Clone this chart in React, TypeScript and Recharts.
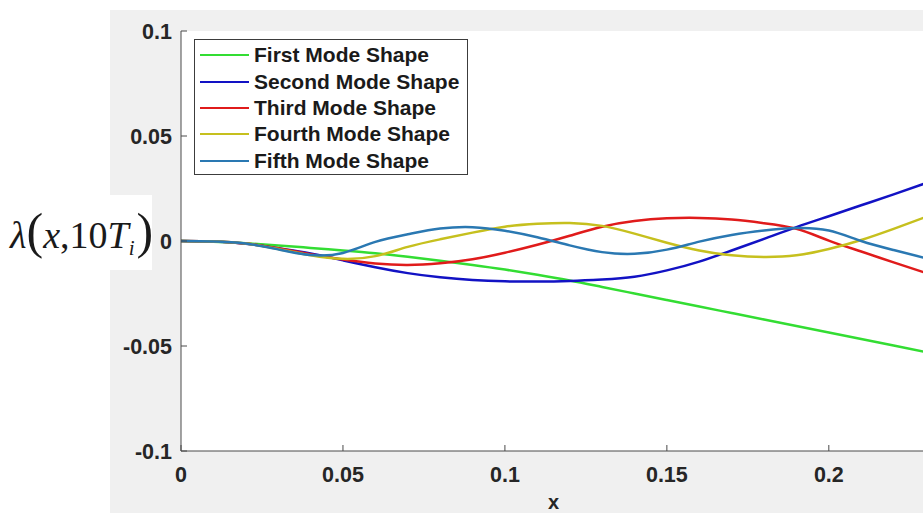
import React from "react";
import { LineChart, Line, XAxis, YAxis, CartesianGrid, Legend } from "recharts";

// values, x step 0.01
const xValues = [
  0, 0.01, 0.02, 0.03, 0.04, 0.05, 0.06, 0.07, 0.08, 0.09, 0.1, 0.11,
  0.12, 0.13, 0.14, 0.15, 0.16, 0.17, 0.18, 0.19, 0.2, 0.21, 0.22, 0.23,
];
const firstMode = [
  0, -0.0003, -0.0011, -0.0021, -0.0033, -0.0045, -0.0058, -0.0075, -0.0094, -0.0114, -0.0136, -0.0161,
  -0.0188, -0.0219, -0.025, -0.0281, -0.0312, -0.0343, -0.0374, -0.0405, -0.0436, -0.0467, -0.0498, -0.0529,
];
const secondMode = [
  0, -0.0002, -0.0013, -0.0035, -0.006, -0.0092, -0.0125, -0.0153, -0.0173, -0.0186, -0.0192, -0.0193,
  -0.019, -0.0183, -0.017, -0.014, -0.0098, -0.0045, 0.001, 0.0066, 0.0118, 0.017, 0.0222, 0.0276,
];
const thirdMode = [
  0, -0.0002, -0.0012, -0.0035, -0.0063, -0.0088, -0.0107, -0.0114, -0.0106, -0.0087, -0.0056, -0.0018,
  0.0025, 0.0068, 0.0095, 0.0108, 0.011, 0.0102, 0.0085, 0.0058, 0.0002, -0.005, -0.0102, -0.0152,
];
const fourthMode = [
  0, -0.0002, -0.0012, -0.0038, -0.0068, -0.0085, -0.0072, -0.0028, 0.0008, 0.004, 0.0068, 0.0082,
  0.0086, 0.0072, 0.0035, -0.0008, -0.0045, -0.0068, -0.0076, -0.0068, -0.0038, 0.0005, 0.0058, 0.0115,
];
const fifthMode = [
  0, -0.0002, -0.0012, -0.004, -0.0067, -0.0057, -0.0004, 0.0032, 0.0059, 0.0066, 0.0049, 0.0018,
  -0.0021, -0.0053, -0.0061, -0.0041, -0.0003, 0.0029, 0.005, 0.0062, 0.005, 0, -0.0043, -0.0082,
];

const xTicks = [0, 0.05, 0.1, 0.15, 0.2];
const yTicks = [-0.1, -0.05, 0, 0.05, 0.1];

const series = [
  { key: "first", name: "First Mode Shape", color: "#33dd33" },
  { key: "second", name: "Second Mode Shape", color: "#1212c4" },
  { key: "third", name: "Third Mode Shape", color: "#e01b1b" },
  { key: "fourth", name: "Fourth Mode Shape", color: "#c6c01e" },
  { key: "fifth", name: "Fifth Mode Shape", color: "#2a78b2" },
];

const data = xValues.map((x, i) => ({
  x,
  first: firstMode[i],
  second: secondMode[i],
  third: thirdMode[i],
  fourth: fourthMode[i],
  fifth: fifthMode[i],
}));

const AXIS = "#4a4a4a";
const TICK_LEN = 6;
const tickFont = {
  fontFamily: "'Liberation Sans', Arial, Helvetica, sans-serif",
  fontWeight: 700,
  fontSize: 21.5,
  fill: "#262626",
};

function BottomTick({ x, y, payload }: any) {
  return (
    <g>
      <line x1={x} y1={y} x2={x} y2={y - TICK_LEN} stroke={AXIS} />
      <text x={x} y={y + 31} textAnchor="middle" style={tickFont}>
        {String(payload.value)}
      </text>
    </g>
  );
}

function TopTick({ x, y }: any) {
  return <line x1={x} y1={y} x2={x} y2={y + TICK_LEN} stroke={AXIS} />;
}

function LeftTick({ x, y, payload }: any) {
  return (
    <g>
      <line x1={x} y1={y} x2={x + TICK_LEN} y2={y} stroke={AXIS} />
      <text x={x - 9} y={y + 7.5} textAnchor="end" style={tickFont}>
        {String(payload.value)}
      </text>
    </g>
  );
}

function RightTick({ x, y }: any) {
  return <line x1={x} y1={y} x2={x - TICK_LEN} y2={y} stroke={AXIS} />;
}

function YTitle({ viewBox }: any) {
  const cy = viewBox.y + viewBox.height / 2;
  return (
    <g>
      <rect x={0} y={cy - 46} width={152} height={75} fill="#ffffff" />
      <text
        x={10}
        y={cy + 7}
        fontFamily="'Liberation Serif', 'Times New Roman', serif"
        fontSize={38}
        fill="#1a1a1a"
      >
        <tspan fontStyle="italic">λ</tspan>
        <tspan fontSize={50}>(</tspan>
        <tspan fontStyle="italic">x</tspan>
        <tspan>,10</tspan>
        <tspan fontStyle="italic">T</tspan>
        <tspan fontStyle="italic" fontSize={21} dy={7}>i</tspan>
        <tspan fontSize={50} dy={-7} dx={2}>)</tspan>
      </text>
    </g>
  );
}

function XTitle({ viewBox }: any) {
  return (
    <text
      x={viewBox.x + viewBox.width / 2}
      y={viewBox.y + viewBox.height - 4}
      textAnchor="middle"
      style={{ ...tickFont, fontSize: 20 }}
    >
      x
    </text>
  );
}

function ModeLegend({ payload }: any) {
  const items = series.map((s) => (payload || []).find((p: any) => p.value === s.name) || { value: s.name, color: s.color });
  return (
    <div
      style={{
        background: "#fff",
        border: "1px solid #3c3c3c",
        width: 274,
        boxSizing: "border-box",
        padding: "2px 0 0 5px",
      }}
    >
      {items.map((p: any) => (
        <div key={p.value} style={{ display: "flex", alignItems: "center", height: 26.4 }}>
          <span style={{ width: 49, height: 0, borderTop: `2.5px solid ${p.color}`, marginRight: 5 }} />
          <span
            style={{
              fontFamily: tickFont.fontFamily,
              fontWeight: 700,
              fontSize: 21,
              color: "#1a1a1a",
              whiteSpace: "nowrap",
            }}
          >
            {p.value}
          </span>
        </div>
      ))}
    </div>
  );
}

export default function App() {
  return (
    <div
      style={{
        position: "fixed",
        left: 0,
        top: 0,
        width: 923,
        height: 513,
        overflow: "hidden",
        background: "#ffffff",
      }}
    >
      <div style={{ position: "absolute", left: 110, top: 10, right: 0, bottom: 0, background: "#f0f0f0" }} />
      <div style={{ position: "absolute", left: 0, top: 0 }}>
        <LineChart width={940} height={513} data={data} margin={{ top: 31, right: 14, left: 121, bottom: 0 }}>
          <CartesianGrid fill="#ffffff" horizontal={false} vertical={false} />
          <XAxis
            dataKey="x"
            type="number"
            domain={[0, 0.23]}
            ticks={xTicks}
            allowDataOverflow
            height={62}
            axisLine={{ stroke: AXIS }}
            tickLine={false}
            tickSize={0}
            tickMargin={0}
            tick={<BottomTick />}
            label={{ content: <XTitle /> }}
          />
          <XAxis
            xAxisId="top"
            orientation="top"
            type="number"
            domain={[0, 0.23]}
            ticks={xTicks}
            allowDataOverflow
            height={0}
            axisLine={{ stroke: AXIS }}
            tickLine={false}
            tickSize={0}
            tickMargin={0}
            tick={<TopTick />}
          />
          <YAxis
            type="number"
            domain={[-0.1, 0.1]}
            ticks={yTicks}
            allowDataOverflow
            width={60}
            axisLine={{ stroke: AXIS }}
            tickLine={false}
            tickSize={0}
            tickMargin={0}
            tick={<LeftTick />}
            label={{ content: <YTitle /> }}
          />
          <YAxis
            yAxisId="right"
            orientation="right"
            type="number"
            domain={[-0.1, 0.1]}
            ticks={yTicks}
            allowDataOverflow
            width={0}
            axisLine={{ stroke: AXIS }}
            tickLine={false}
            tickSize={0}
            tickMargin={0}
            tick={<RightTick />}
          />
          <Legend
            layout="vertical"
            align="center"
            verticalAlign="middle"
            content={<ModeLegend />}
            wrapperStyle={{ left: 194, top: 39, width: "auto", height: "auto" }}
          />
          {series.map((s) => (
            <Line
              key={s.key}
              type="natural"
              dataKey={s.key}
              name={s.name}
              stroke={s.color}
              strokeWidth={2.5}
              dot={false}
              activeDot={false}
              isAnimationActive={false}
            />
          ))}
        </LineChart>
      </div>
    </div>
  );
}
